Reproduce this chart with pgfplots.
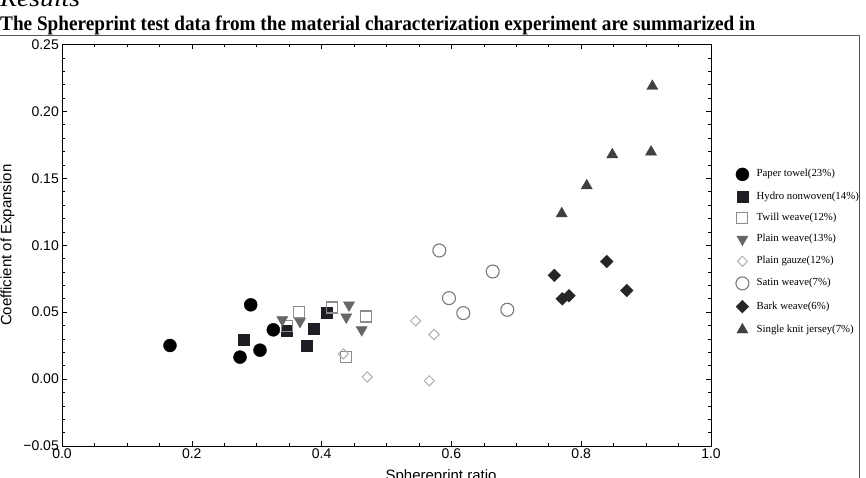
\documentclass[border=0pt]{standalone}
\usepackage{fontspec}
\setmainfont{Liberation Serif}
\newfontfamily\sansf{Liberation Sans}
\usepackage{graphicx}
\usepackage{pgfplots}
\pgfplotsset{compat=1.18}
\definecolor{hydro}{HTML}{1E1E24}
\definecolor{twill}{HTML}{8C8C8C}
\definecolor{plainw}{HTML}{666666}
\definecolor{gauze}{HTML}{B0B0B0}
\definecolor{satin}{HTML}{7A7A7A}
\definecolor{bark}{HTML}{262626}
\definecolor{jersey}{HTML}{404040}
\definecolor{framec}{HTML}{555555}
\begin{document}
\begin{tikzpicture}[x=1pt,y=1pt]
\useasboundingbox (0pt,0pt) rectangle (866pt,-478pt);
\node[anchor=base west, inner sep=0pt] at (0pt,-7pt) {\resizebox{80pt}{\height}{\fontsize{24}{24}\selectfont\itshape Results}};
\node[anchor=base west, inner sep=0pt] at (0pt,-31pt) {\resizebox{755pt}{\height}{\fontsize{20.7}{21}\selectfont\bfseries The Sphereprint test data from the material characterization experiment are summarized in}};
\draw[framec, line width=0.8pt] (-2pt,-35pt) -- (859pt,-35pt) -- (859pt,-482pt);
\begin{axis}[
  at={(62pt,-446pt)}, anchor=south west,
  scale only axis, width=649pt, height=401.5pt,
  xmin=0, xmax=1, ymin=-0.05, ymax=0.25,
  xtick={0,0.2,0.4,0.6,0.8,1},
  xticklabels={0.0,0.2,0.4,0.6,0.8,1.0},
  ytick={-0.05,0,0.05,0.1,0.15,0.2,0.25},
  yticklabels={−0.05,0.00,0.05,0.10,0.15,0.20,0.25},
  minor x tick num=3, minor y tick num=4,
  tick align=inside,
  major tick length=5pt, minor tick length=3pt,
  tick style={black, line width=0.6pt},
  axis line style={black, line width=0.8pt},
  tick label style={font=\sansf\fontsize{14}{14}\selectfont},
  yticklabel style={inner sep=0pt, xshift=-3pt},
  xticklabel style={inner sep=0pt, yshift=-3pt},
  xlabel={Sphereprint ratio},
  xlabel style={at={(axis description cs:0.584,-0.0573)}, anchor=north, inner sep=0pt, font=\sansf\fontsize{15}{15}\selectfont},
  ylabel={Coefficient of Expansion},
  ylabel style={at={(axis description cs:-0.084,0.5)}, anchor=center, inner sep=0pt, font=\sansf\fontsize{15}{15}\selectfont},
  legend style={at={(1.037,0.6932)}, anchor=north west, draw=none, fill=none,
    font=\fontsize{10.8}{11}\selectfont, row sep=10.4pt, column sep=7pt, inner sep=0pt,
    nodes={inner sep=0pt, text height=7.5pt, text depth=2.5pt}},
  legend cell align=left,
  legend image code/.code={\draw[#1] plot coordinates {(7pt,0pt)}; \path (0pt,-5pt) (14pt,5pt);},
]
\addplot[only marks, mark=*, mark size=6.5pt, black] coordinates {
(0.1664,0.0251) (0.2908,0.0555) (0.3256,0.0368) (0.2743,0.0164) (0.3051,0.0216)};
\addlegendentry{Paper towel(23\%)}
\addplot[only marks, mark=square*, mark size=5.5pt, hydro] coordinates {
(0.2804,0.0298) (0.3462,0.0363) (0.3883,0.0373) (0.3775,0.0251) (0.4079,0.0498)};
\addlegendentry{Hydro nonwoven(14\%)}
\addplot[only marks, mark=square, mark size=5.5pt, twill, mark options={line width=1.1pt}] coordinates {
(0.3471,0.0400) (0.3652,0.0498) (0.4160,0.0535) (0.4684,0.0468) (0.4376,0.0164)};
\addlegendentry{Twill weave(12\%)}
\addplot[only marks, mark=triangle*, mark size=6.4pt, plainw, mark options={rotate=180}] coordinates {
(0.3394,0.0443) (0.3667,0.0430) (0.4422,0.0553) (0.4380,0.0463) (0.4618,0.0368)};
\addlegendentry{Plain weave(13\%)}
\addplot[only marks, mark=square, mark size=3.6pt, gauze, mark options={rotate=45, line width=1pt}] coordinates {
(0.4334,0.0189) (0.4704,0.0016) (0.5450,0.0435) (0.5732,0.0333) (0.5659,-0.0013)};
\addlegendentry{Plain gauze(12\%)}
\addplot[only marks, mark=o, mark size=6.5pt, satin, mark options={line width=1.1pt}] coordinates {
(0.5814,0.0961) (0.6636,0.0804) (0.5963,0.0605) (0.6183,0.0493) (0.6861,0.0518)};
\addlegendentry{Satin weave(7\%)}
\addplot[only marks, mark=square*, mark size=4.5pt, bark, mark options={rotate=45}] coordinates {
(0.7586,0.0775) (0.8393,0.0879) (0.8701,0.0662) (0.7709,0.0600) (0.7812,0.0622)};
\addlegendentry{Bark weave(6\%)}
\addplot[only marks, mark=triangle*, mark size=6.4pt, jersey] coordinates {
(0.9096,0.2188) (0.8479,0.1677) (0.9076,0.1697) (0.8085,0.1445) (0.7700,0.1236)};
\addlegendentry{Single knit jersey(7\%)}
\end{axis}
\end{tikzpicture}
\end{document}
